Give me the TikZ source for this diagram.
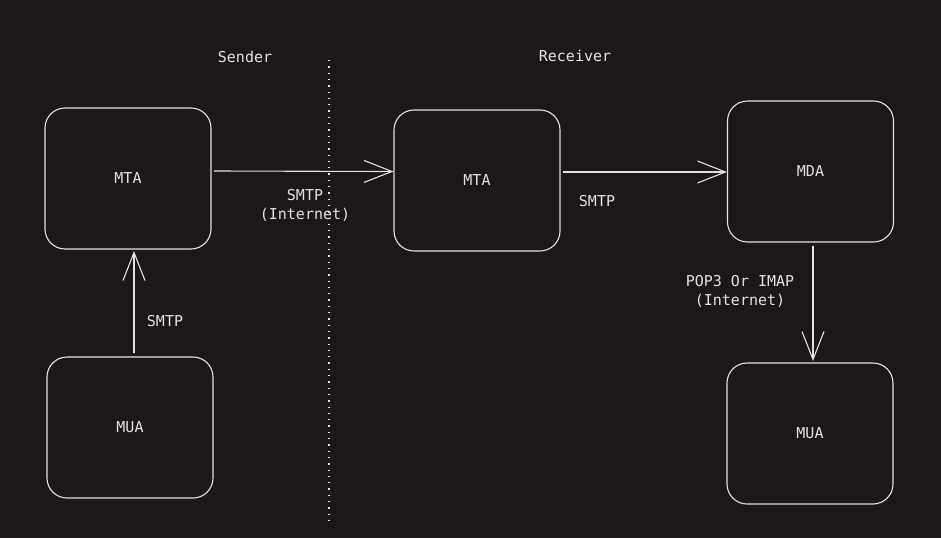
\documentclass[tikz,border=0pt]{standalone}
\usepackage{fontspec}
\setmonofont{DejaVu Sans Mono}
\usetikzlibrary{arrows.meta}
\definecolor{bg}{HTML}{1C1817}
\definecolor{fg}{HTML}{E2E2E2}
\tikzset{
  box/.style={draw=fg, line width=1.1pt, rounded corners=20pt, minimum width=166pt, minimum height=141pt, inner sep=0pt, text=fg, font=\ttfamily\fontsize{15}{18}\selectfont},
  lbl/.style={text=fg, font=\ttfamily\fontsize{15}{19}\selectfont, align=center, inner sep=0pt},
  conn/.style={draw=fg, line width=1.1pt, -{Straight Barb[length=28pt,width=22pt,line width=1.1pt]}},
}
\begin{document}
\begin{tikzpicture}[x=1pt,y=-1pt]
\fill[bg] (0,0) rectangle (941,538);
\useasboundingbox (0,0) rectangle (941,538);
\node[box] (mta1) at (128,178.5) {MTA};
\node[box] (mua1) at (130,427.5) {MUA};
\node[box] (mta2) at (477,180.5) {MTA};
\node[box] (mda) at (810.5,171.5) {MDA};
\node[box] (mua2) at (810,433.5) {MUA};
\coordinate (d1) at (329,60);
\coordinate (d2) at (329,520);
\draw[fg, line width=1.3pt, dash pattern=on 1.3pt off 5pt] (d1) -- (d2);
\node[lbl] (snd) at (245,57) {Sender};
\node[lbl] (rcv) at (575,56) {Receiver};
\draw[conn] (mua1.north -| 134,0) ++(0,-3) -- (134,251);
\draw[conn] (214,171) -- (mta2.west |- 0,171.5);
\draw[conn] (mta2.east |- 0,172) ++(2,0) -- (mda.west |- 0,172);
\draw[conn] (mda.south -| 813,0) ++(0,3) -- (813,361);
\node[lbl] (s1) at (165,321) {SMTP};
\node[lbl] (s2) at (305,205) {SMTP\\(Internet)};
\node[lbl] (s3) at (597,201) {SMTP};
\node[lbl] (p) at (740,291) {POP3 Or IMAP\\(Internet)};
\end{tikzpicture}
\end{document}
